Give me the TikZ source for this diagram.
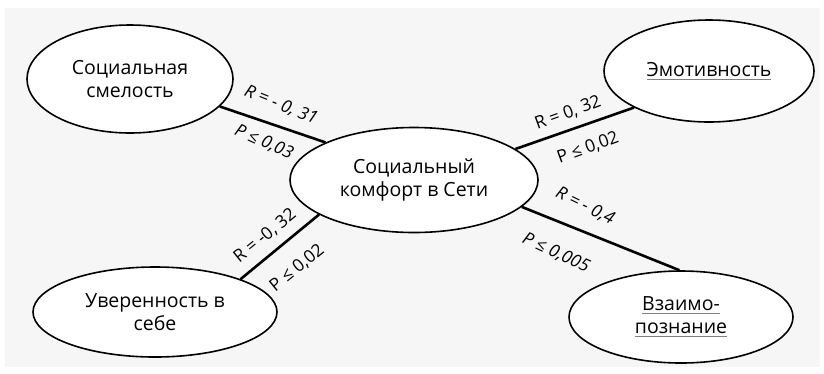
\documentclass[tikz,border=0pt]{standalone}
\usepackage{fontspec}
\setmainfont{Open Sans}
\usetikzlibrary{shapes.geometric}
\definecolor{bg}{HTML}{F6F6F6}
\newcommand{\grul}[1]{\setbox0\hbox{#1}\rlap{\textcolor{gray}{\rule[-3.5pt]{\wd0}{0.9pt}}}\box0}
\begin{document}
\begin{tikzpicture}[x=1pt,y=1pt,
  oval/.style={ellipse,draw,line width=1.6pt,fill=white,minimum width=#1,align=center,font=\fontsize{19.5}{23}\selectfont,inner sep=0pt},
  link/.style={line width=2.6pt},
  lab/.style={font=\fontsize{17.5}{19}\selectfont,inner sep=0pt},
  labi/.style={lab,font=\fontsize{17.5}{19}\selectfont\itshape}]
\useasboundingbox (0,0) rectangle (824,-373);
\fill[bg] (5,-8) rectangle (820,-367);
\node[oval=206pt,minimum height=108pt] (sm) at (130,-79) {Социальная\\смелость};
\node[oval=210pt,minimum height=102pt] (em) at (709,-71) {\grul{Эмотивность}};
\node[oval=248pt,minimum height=105pt] (sk) at (414,-180) {Социальный\\комфорт в Сети};
\node[oval=244pt,minimum height=90pt] (uv) at (155,-312) {Уверенность в\\себе};
\node[oval=224pt,minimum height=92pt] (vz) at (681,-317) {\grul{Взаимо-}\\\grul{познание}};
\draw[link] (sm.-17) -- (sk.157);
\draw[link] (sk.17) -- (em.-154);
\draw[link] (sk.200) -- (uv.21);
\draw[link] (sk.-14) -- (vz.92);
\node[labi,rotate=-22] (l1) at (281,-105) {R = - 0, 31};
\node[labi,rotate=-24] (l2) at (264,-142) {P ≤ 0,03};
\node[lab,rotate=20] (l3) at (568,-113) {R = 0, 32};
\node[lab,rotate=20] (l4) at (588,-148) {P ≤ 0,02};
\node[lab,rotate=39] (l5) at (265,-236) {R = -0, 32};
\node[lab,rotate=39] (l6) at (297,-268) {P ≤ 0,02};
\node[labi,rotate=-26] (l7) at (585,-206) {R = - 0,4};
\node[labi,rotate=-25] (l8) at (556,-253) {P ≤ 0,005};
\end{tikzpicture}
\end{document}
